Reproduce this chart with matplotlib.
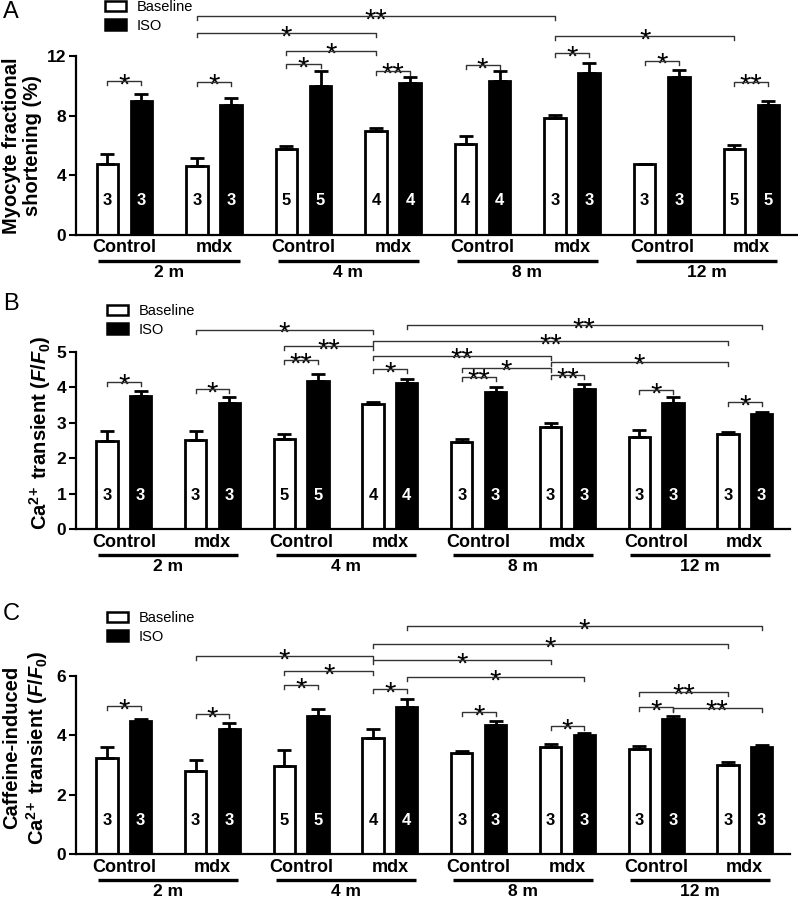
import matplotlib
matplotlib.use('Agg')
import matplotlib.pyplot as plt
from matplotlib.patches import Patch
from matplotlib.transforms import blended_transform_factory, ScaledTranslation

plt.rcParams['font.family'] = ['Liberation Sans', 'DejaVu Sans']
plt.rcParams['mathtext.fontset'] = 'custom'
plt.rcParams['mathtext.rm'] = 'Liberation Sans:bold'
plt.rcParams['mathtext.it'] = 'Liberation Sans:italic:bold'
plt.rcParams['mathtext.bf'] = 'Liberation Sans:bold'

# ---------------- data ----------------
genotypes = ['Control', 'mdx', 'Control', 'mdx', 'Control', 'mdx', 'Control', 'mdx']
ages = ['2 m', '4 m', '8 m', '12 m']
series_names = ['Baseline', 'ISO']

# Panel A: myocyte fractional shortening (%)
A_base = [4.74, 4.65, 5.76, 6.99, 6.08, 7.82, 4.76, 5.76]
A_base_err = [0.67, 0.50, 0.20, 0.15, 0.56, 0.22, 0.02, 0.25]
A_iso = [9.00, 8.71, 9.99, 10.20, 10.32, 10.84, 10.61, 8.71]
A_iso_err = [0.43, 0.50, 1.00, 0.40, 0.67, 0.71, 0.47, 0.25]
A_n = [3, 3, 5, 4, 4, 3, 3, 5]
A_yticks = [0, 4, 8, 12]
# (group1, series1, group2, series2, bracket height, label)
A_sig = [
    (0, 0, 0, 1, 10.32, '*'),
    (1, 0, 1, 1, 10.27, '*'),
    (2, 0, 2, 1, 11.44, '*'),
    (2, 0, 3, 0, 12.35, '*'),
    (1, 0, 3, 0, 13.52, '*'),
    (1, 0, 5, 0, 14.68, '**'),
    (3, 0, 3, 1, 11.01, '**'),
    (4, 0, 4, 1, 11.39, '*'),
    (5, 0, 5, 1, 12.18, '*'),
    (5, 0, 7, 0, 13.34, '*'),
    (6, 0, 6, 1, 11.68, '*'),
    (7, 0, 7, 1, 10.27, '**'),
]

# Panel B: Ca2+ transient (F/F0)
B_base = [2.48, 2.50, 2.54, 3.52, 2.46, 2.87, 2.60, 2.68]
B_base_err = [0.30, 0.26, 0.14, 0.07, 0.09, 0.12, 0.20, 0.07]
B_iso = [3.76, 3.55, 4.18, 4.11, 3.86, 3.96, 3.55, 3.25]
B_iso_err = [0.12, 0.17, 0.20, 0.11, 0.14, 0.12, 0.18, 0.04]
B_n = [3, 3, 5, 4, 3, 3, 3, 3]
B_yticks = [0, 1, 2, 3, 4, 5]
B_sig = [
    (0, 0, 0, 1, 4.16, '*'),
    (1, 0, 1, 1, 3.94, '*'),
    (2, 0, 2, 1, 4.77, '**'),
    (2, 0, 3, 0, 5.16, '**'),
    (1, 0, 3, 0, 5.62, '*'),
    (3, 0, 3, 1, 4.51, '*'),
    (3, 1, 7, 1, 5.75, '**'),
    (3, 0, 7, 0, 5.30, '**'),
    (3, 0, 5, 0, 4.89, '**'),
    (4, 0, 5, 0, 4.55, '*'),
    (5, 0, 7, 0, 4.72, '*'),
    (4, 0, 4, 1, 4.30, '**'),
    (5, 0, 5, 1, 4.33, '**'),
    (6, 0, 6, 1, 3.92, '*'),
    (7, 0, 7, 1, 3.58, '*'),
]

# Panel C: caffeine-induced Ca2+ transient (F/F0)
C_base = [3.24, 2.79, 2.98, 3.92, 3.40, 3.60, 3.55, 3.00]
C_base_err = [0.35, 0.39, 0.51, 0.28, 0.06, 0.12, 0.10, 0.09]
C_iso = [4.47, 4.22, 4.65, 4.96, 4.36, 4.02, 4.54, 3.59]
C_iso_err = [0.07, 0.20, 0.25, 0.27, 0.11, 0.05, 0.10, 0.10]
C_n = [3, 3, 5, 4, 3, 3, 3, 3]
C_yticks = [0, 2, 4, 6]
C_sig = [
    (0, 0, 0, 1, 4.99, '*'),
    (1, 0, 1, 1, 4.72, '*'),
    (2, 0, 2, 1, 5.70, '*'),
    (2, 0, 3, 0, 6.17, '*'),
    (1, 0, 3, 0, 6.67, '*'),
    (3, 0, 3, 1, 5.56, '*'),
    (3, 1, 7, 1, 7.68, '*'),
    (3, 0, 7, 0, 7.08, '*'),
    (3, 0, 5, 0, 6.54, '*'),
    (3, 1, 5, 1, 5.96, '*'),
    (4, 0, 4, 1, 4.77, '*'),
    (5, 0, 5, 1, 4.31, '*'),
    (6, 0, 6, 1, 4.94, '*'),
    (6, 0, 7, 0, 5.47, '**'),
    (6, 1, 7, 1, 4.93, '**'),
]

# ---------------- figure ----------------
W, H = 798, 900
fig = plt.figure(figsize=(W / 100, H / 100), dpi=100)

OFF = 0.19
BW = 0.24
XLIM = (-0.54, 7.51)


def px_axes(left, right, top, bottom):
    return fig.add_axes([left / W, 1 - bottom / H, (right - left) / W, (bottom - top) / H])


def draw_panel(ax, base, base_err, iso, iso_err, n, yticks, sig, ylabel,
               ylab_x, ylab_y, legend_anchor, letter, letter_y):
    x = list(range(len(base)))
    xb = [g - OFF for g in x]
    xi = [g + OFF for g in x]
    ax.bar(xb, base, width=BW, color='white', edgecolor='black', linewidth=2.0, zorder=2)
    ax.bar(xi, iso, width=BW, color='black', edgecolor='black', linewidth=2.0, zorder=2)
    ax.errorbar(xb, base, yerr=[[0] * len(base), base_err], fmt='none', ecolor='black',
                elinewidth=2.0, capsize=5, capthick=2.0, zorder=3)
    ax.errorbar(xi, iso, yerr=[[0] * len(iso), iso_err], fmt='none', ecolor='black',
                elinewidth=2.0, capsize=5, capthick=2.0, zorder=3)
    ax.set_xlim(*XLIM)
    ax.set_ylim(yticks[0], yticks[-1])
    ax.set_yticks(yticks)
    ax.set_xticks([])
    ax.tick_params(axis='y', direction='out', length=5, width=1.5, labelsize=12.5, pad=2)
    for lab in ax.get_yticklabels():
        lab.set_fontweight('bold')
    for s in ['top', 'right']:
        ax.spines[s].set_visible(False)
    for s in ['left', 'bottom']:
        ax.spines[s].set_linewidth(1.6)

    trans = blended_transform_factory(ax.transData, ax.transAxes)
    # n numbers inside bars
    for g in x:
        ax.text(xb[g], 0.19, str(n[g]), transform=trans, ha='center', va='center',
                fontsize=12, fontweight='bold', color='black', zorder=4)
        ax.text(xi[g], 0.19, str(n[g]), transform=trans, ha='center', va='center',
                fontsize=12, fontweight='bold', color='white', zorder=4)

    # genotype labels, age lines and age labels
    def down(px):
        return trans + ScaledTranslation(0, -px / 100, fig.dpi_scale_trans)
    for g in x:
        ax.text(g, 0, genotypes[g], transform=down(13), ha='center', va='center',
                fontsize=13, fontweight='bold')
    for k, age in enumerate(ages):
        g0, g1 = 2 * k, 2 * k + 1
        ax.plot([g0 - 0.29, g1 + 0.29], [0, 0], transform=down(26), color='black',
                lw=2.4, clip_on=False, solid_capstyle='butt')
        ax.text((g0 + g1) / 2, 0, age, transform=down(42), ha='center', va='baseline',
                fontsize=12.5, fontweight='bold')

    # significance brackets
    ymin, ymax = ax.get_ylim()
    hpx = ax.bbox.height
    drop = 4 * (ymax - ymin) / hpx
    star_fs = 21
    for g1, s1, g2, s2, y, lab in sig:
        xa = g1 + (OFF if s1 else -OFF)
        xc = g2 + (OFF if s2 else -OFF)
        ax.plot([xa, xa, xc, xc], [y - drop, y, y, y - drop], color='#333333', lw=1.0,
                clip_on=False, zorder=5)
        ax.annotate(lab, xy=((xa + xc) / 2, y), xytext=(0, -0.42 * star_fs),
                    textcoords='offset points', ha='center', va='baseline',
                    fontsize=star_fs, annotation_clip=False)

    ax.set_ylabel(ylabel, fontsize=14.5, fontweight='bold', ha='center', va='center',
                  rotation_mode='default', linespacing=1.15)
    ax.yaxis.set_label_coords(ylab_x, ylab_y)

    handles = [Patch(facecolor='white', edgecolor='black', linewidth=1.8),
               Patch(facecolor='black', edgecolor='black', linewidth=1.8)]
    ax.legend(handles, series_names, loc='upper left', bbox_to_anchor=legend_anchor,
              frameon=False, fontsize=10.5, borderpad=0, borderaxespad=0,
              handlelength=1.45, handleheight=0.72, handletextpad=0.72,
              labelspacing=0.3)

    fig.text(3 / W, 1 - letter_y / H, letter, fontsize=17, va='center', ha='left')


CA_LABEL = r'Ca$^{\mathregular{2\!+}}$ transient ($F$/$F_\mathregular{0}$)'

axA = px_axes(76, 797, 56, 235)
draw_panel(axA, A_base, A_base_err, A_iso, A_iso_err, A_n, A_yticks, A_sig,
           'Myocyte fractional\nshortening (%)', -0.075, 0.5,
           (0.040, 1.311), 'A', 12.5)

axB = px_axes(76, 790, 351.7, 529.3)
draw_panel(axB, B_base, B_base_err, B_iso, B_iso_err, B_n, B_yticks, B_sig,
           CA_LABEL, -0.050, 0.545,
           (0.0434, 1.267), 'B', 303.5)

axC = px_axes(76, 790, 676, 854)
draw_panel(axC, C_base, C_base_err, C_iso, C_iso_err, C_n, C_yticks, C_sig,
           'Caffeine-induced\n' + CA_LABEL, -0.070, 0.6,
           (0.0434, 1.363), 'C', 614.5)

fig.savefig('out.png', dpi=100)
